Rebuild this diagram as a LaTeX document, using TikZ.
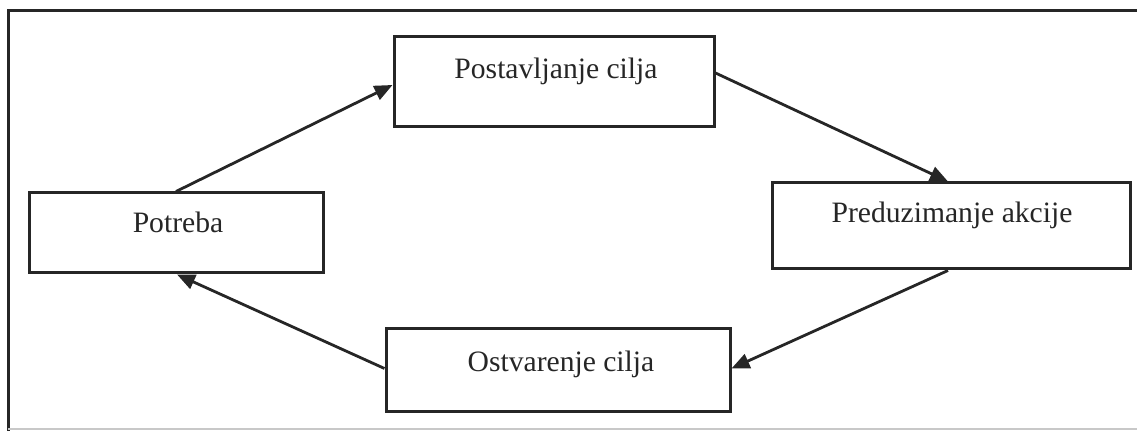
\documentclass[tikz,border=0pt]{standalone}
\usepackage{fontspec}
\setmainfont{Liberation Serif}
\usetikzlibrary{arrows.meta,calc}
\definecolor{ink}{HTML}{262626}
\definecolor{txt}{HTML}{262626}
\definecolor{faint}{HTML}{C8C8C8}
\tikzset{
  stage/.style={draw=ink, line width=1.5pt, fill=white, inner sep=0pt},
  lbl/.style={anchor=base, inner sep=0pt, text=txt, font=\fontsize{14.8}{17}\selectfont},
  flow/.style={draw=ink, line width=1.4pt, -{Triangle[length=9pt,width=7.5pt]}},
  frame/.style={draw=ink, line width=1.5pt}
}
\begin{document}
\begin{tikzpicture}[x=0.5pt,y=-0.5pt]
\useasboundingbox (0,0) rectangle (1137,431);
% outer frame
\coordinate (fl) at (8,431);
\coordinate (ftl) at (8,11);
\coordinate (ftr) at (1137,11);
\coordinate (fbl) at (8,429);
\coordinate (fbr) at (1137,429);
\draw[frame] (fl) -- (ftl) -- (ftr);
\draw[draw=faint, line width=0.8pt] (fbl) -- (fbr);
% boxes
\node[stage, minimum width=160pt, minimum height=45pt] (pos) at (554,82) {};
\node[stage, minimum width=179pt, minimum height=43pt] (pre) at (951,226) {};
\node[stage, minimum width=147pt, minimum height=40pt] (pot) at (176,233) {};
\node[stage, minimum width=172pt, minimum height=41.5pt] (ost) at (558,370.5) {};
% labels
\node[lbl] (tpos) at (556,79) {Postavljanje cilja};
\node[lbl] (tpre) at (952,223) {Preduzimanje akcije};
\node[lbl] (tpot) at (178,233) {Potreba};
\node[lbl] (tost) at (561,372) {Ostvarenje cilja};
% connectors
\draw[flow] (pot.north) -- ($(pos.west)+(0,3)$);
\draw[flow] ($(pos.east)+(0,-9)$) -- ($(pre.north)+(-3,0)$);
\draw[flow] ($(pre.south)+(-3,0)$) -- ($(ost.east)+(0,-2)$);
\draw[flow] ($(ost.west)+(0,-2)$) -- ($(pot.south)+(1,0)$);
\end{tikzpicture}
\end{document}
